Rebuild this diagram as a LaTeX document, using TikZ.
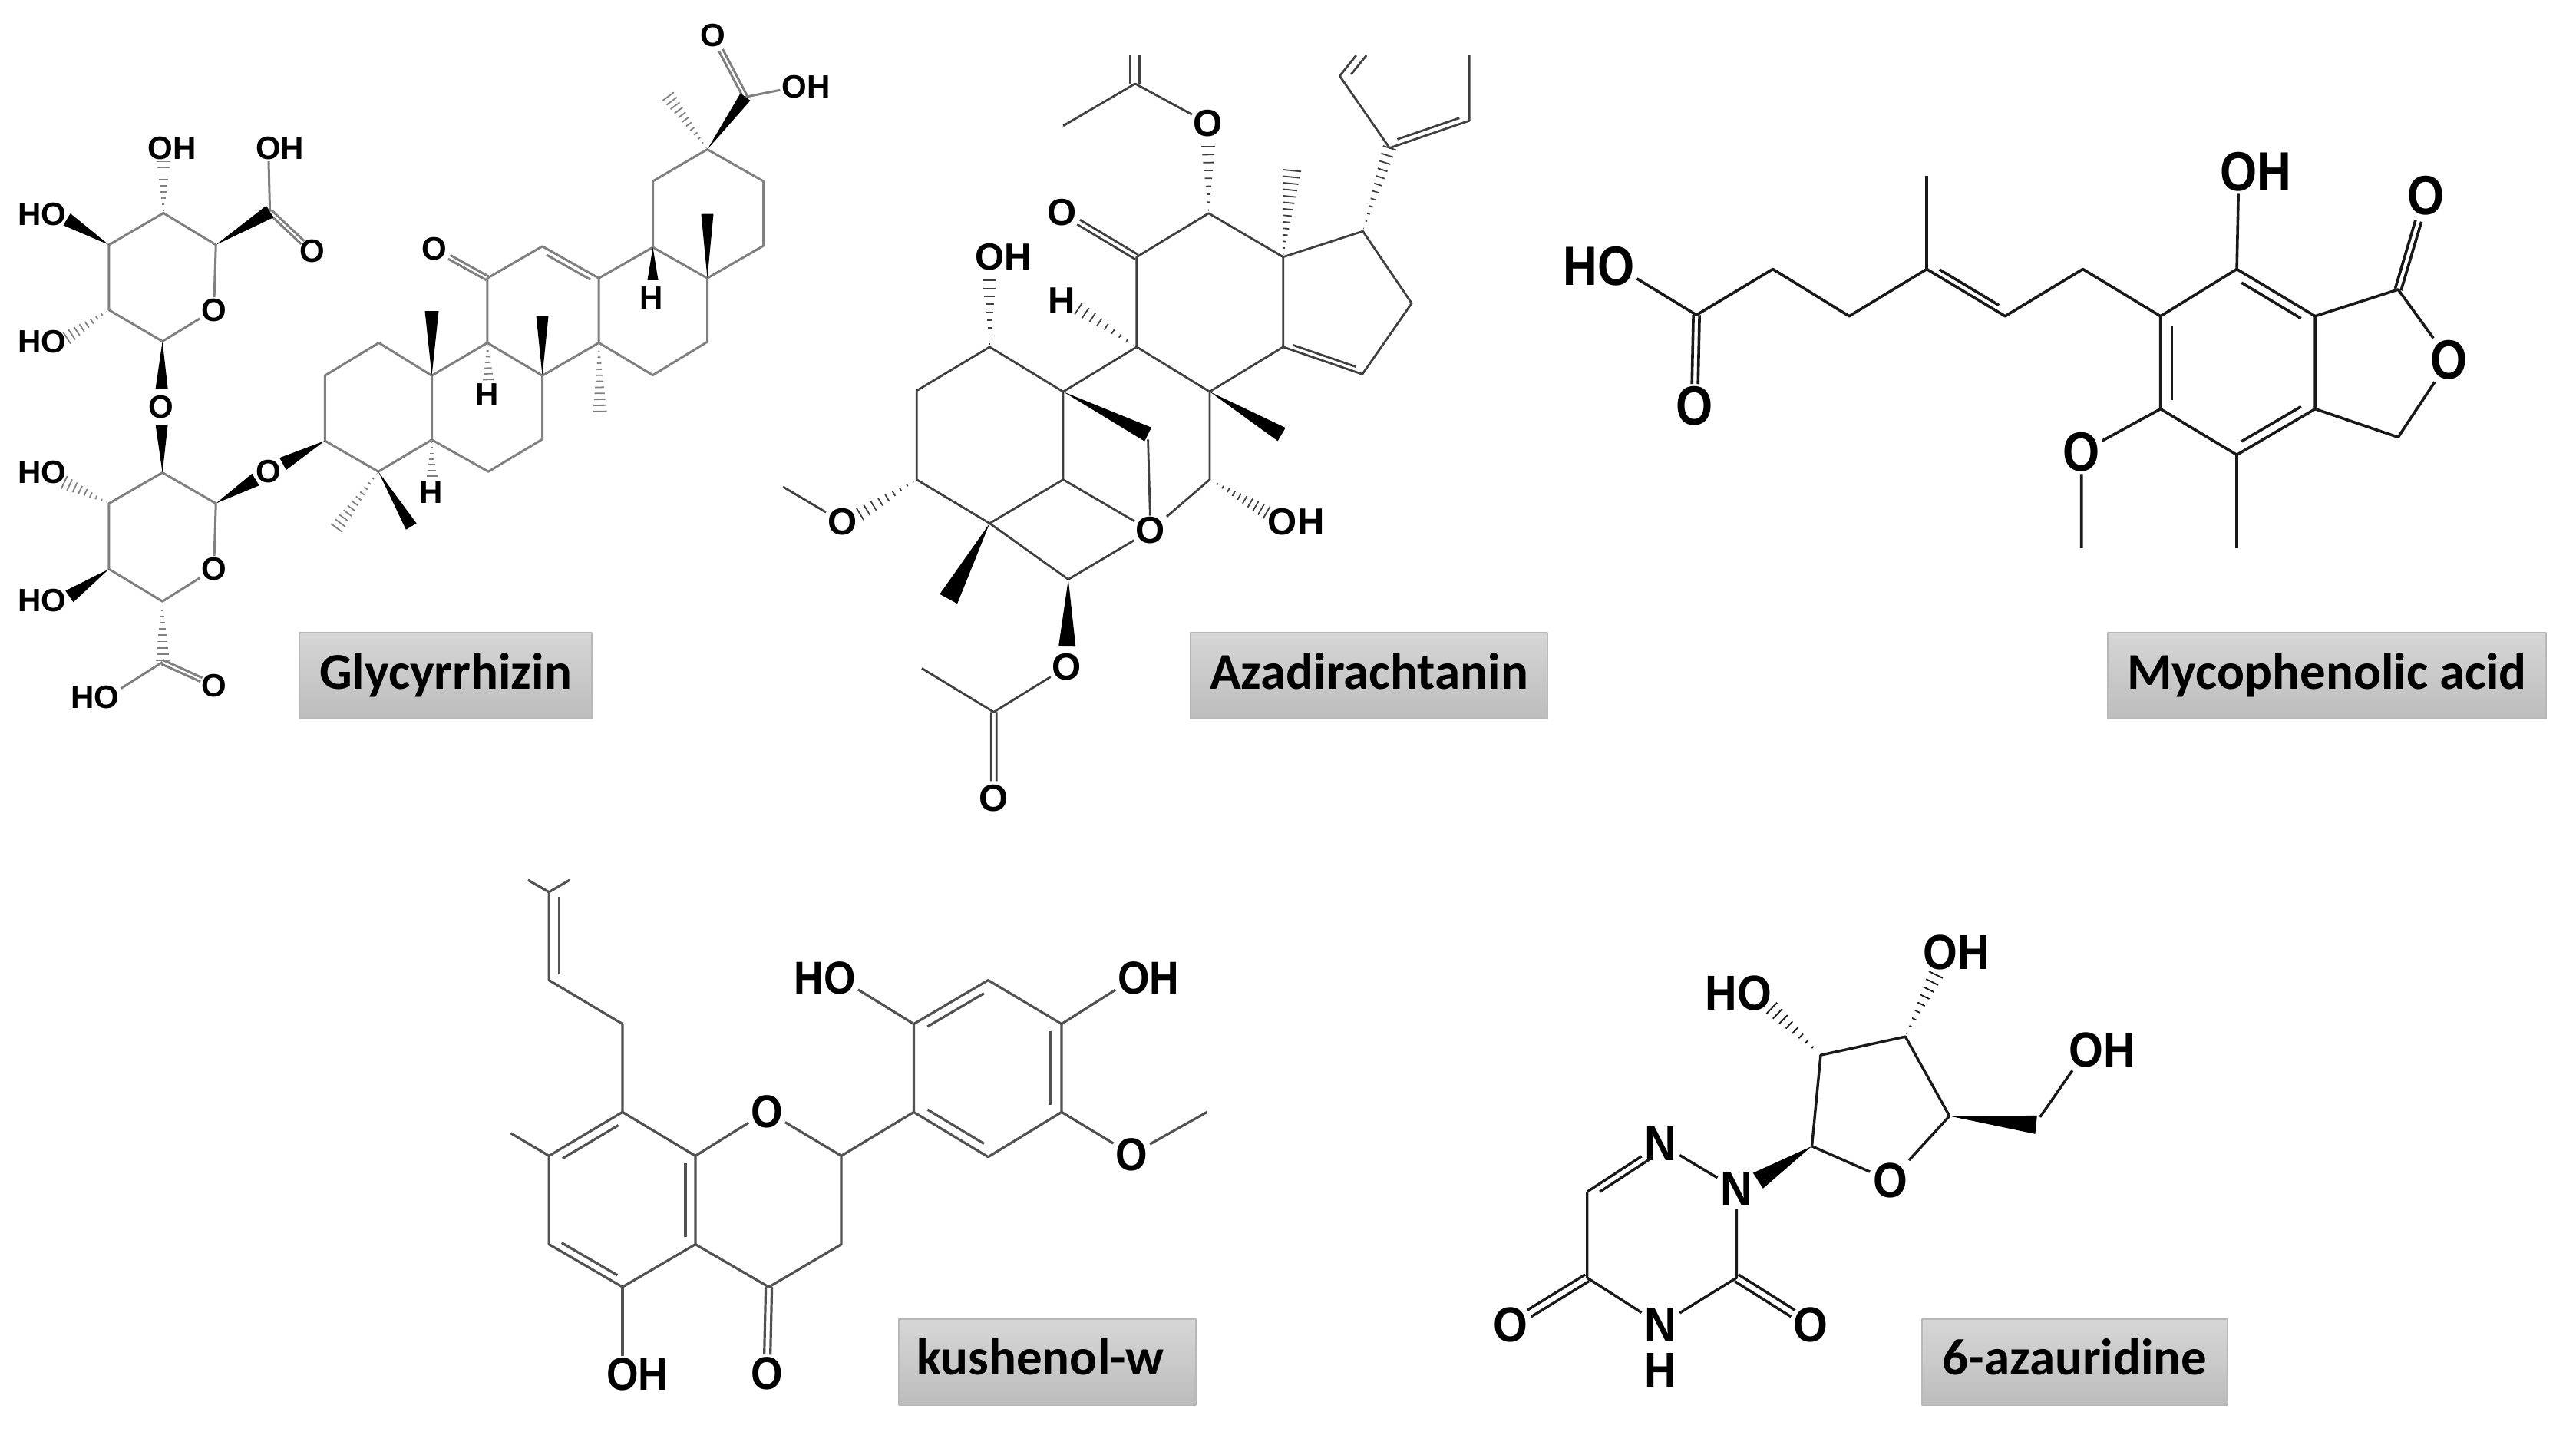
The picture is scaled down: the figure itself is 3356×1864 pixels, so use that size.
\documentclass[tikz,border=0pt]{standalone}
\usepackage{fontspec}
\usetikzlibrary{calc}
\newfontfamily\atomfont{Liberation Sans}
\newfontfamily\atomfontC[FakeStretch=0.86]{Liberation Sans}
\newfontfamily\atomfontD[FakeStretch=0.89]{Liberation Sans}
\newfontfamily\atomfontE[FakeStretch=0.9]{Liberation Sans}
\newfontfamily\namefont{Carlito}
% wedge from #1 to fraction #3 of the way to #2, half width #4
\newcommand{\wedgeb}[4]{%
  \coordinate (wtip) at ($(#1)!#3!(#2)$);
  \fill[black] (#1) -- ($(wtip)!#4!90:(#1)$) -- ($(wtip)!#4!-90:(#1)$) -- cycle;}
% hashed wedge: from #1 to fraction #3 towards #2, half width #4, #5 strokes
\newcommand{\hashb}[5]{%
  \foreach \hi in {0,...,#5}{%
    \pgfmathsetmacro\hfr{(\hi+0.4)/(#5+0.4)}
    \pgfmathsetmacro\hpos{\hfr*#3}
    \coordinate (hc) at ($(#1)!\hpos!(#2)$);
    \draw[bond,line width=1.8pt] ($(hc)!\hfr*#4!90:(#1)$) -- ($(hc)!\hfr*#4!-90:(#1)$);
  }}
% inner line of a double bond, on the left of a->b at signed offset #3
\newcommand{\innerb}[5]{%
  \coordinate (ia) at ($(#1)!#4!(#2)$);
  \coordinate (ib) at ($(#1)!#5!(#2)$);
  \draw[bond] ($(ia)!#3!90:(ib)$) -- ($(ib)!#3!-90:(ia)$);}
% symmetric double bond from #1 to fraction #4 towards #2
\newcommand{\symb}[4]{%
  \innerb{#1}{#2}{#3}{0}{#4}
  \innerb{#1}{#2}{-#3}{0}{#4}}
\newcommand{\pts}[1]{\foreach \pn/\px/\py in {#1}{\coordinate (\pn) at (\px,\py);}}
\tikzset{
  namebox/.style={draw=black!28,line width=2pt,top color=black!16,bottom color=black!26,
    minimum height=112pt,inner sep=0pt,text=black,text height=47pt,text depth=13pt,
    font=\namefont\bfseries\fontsize{67}{67}\selectfont},
  bond/.style={line width=3pt},
  atom/.style={inner sep=2pt,outer sep=0pt}
}
\begin{document}
\begin{tikzpicture}[x=1pt,y=-1pt,line join=round]
\useasboundingbox (0,0) rectangle (3356,1864);
\fill[white] (0,0) rectangle (3356,1864);

%================ Glycyrrhizin
\begin{scope}[x=0.6697pt,y=-0.6378pt,
  bond/.style={draw=black!50,line width=3pt},
  atom/.style={inner sep=2pt,outer sep=0pt,font=\atomfont\bfseries\fontsize{42}{42}\selectfont}]
\pts{a1/318/435,a2/212/500,a3/212/633,a4/316/697,a5/420/500,
 a6/130/448,a7/318/330,a8/525/432,a9/130/690,
 b1/316/965,b2/212/1028,b3/212/1162,b4/316/1228,b5/420/1028,
 b6/125/985,b7/135/1218,b8/316/1352,
 s1/632/900,s2/632/767,s3/737/700,s4/840/767,s5/840/898,s6/736/963,
 s7/948/700,s8/1055/767,s9/1055/897,s10/950/963,
 s11/948/568,s12/1055/503,s13/1165/568,s14/1165/700,
 s15/1270/505,s16/1376/568,s17/1376/698,s18/1270/766,
 s19/1270/370,s20/1376/305,s21/1485/370,s22/1485/502,s23/1450/198,
 m1/840/635,m2/1055/645,m3/1167/840,m4/1376/437,m5/655/1078,m6/800/1075,m7/1300/197,
 h1/950/775,h2/840/972,h3/1270/572}
\node[atom] (aO) at (416,633) {O};
\node[atom] (aOH1) at (105,437) {\llap{H}O};
\node[atom] (aOH2) at (312,303) {O\rlap{H}};
\node[atom] (aOH3) at (522,303) {O\rlap{H}};
\node[atom] (aOd) at (607,513) {O};
\node[atom] (aOH4) at (105,697) {\llap{H}O};
\node[atom] (lnk) at (314,831) {O};
\node[atom] (bO) at (416,1162) {O};
\node[atom] (bOH1) at (105,965) {\llap{H}O};
\node[atom] (bOH2) at (105,1226) {\llap{H}O};
\node[atom] (lnk2) at (523,963) {O};
\node[atom] (bOd) at (417,1400) {O};
\node[atom] (bOH3) at (208,1424) {\llap{H}O};
\node[atom] (sO) at (845,508) {O};
\node[atom] (tO) at (1387,72) {O};
\node[atom] (tOH) at (1545,178) {O\rlap{H}};
\node[atom] (H1) at (948,806) {H};
\node[atom] (H2) at (1267,608) {H};
\node[atom] (H3) at (838,1005) {H};
\draw[bond] (a5)--(a1)--(a2)--(a3)--(a4)--(aO)--(a5);
\draw[bond] (a8)--(aOH3);
\symb{a8}{aOd}{2.8pt}{0.78}
\draw[bond] (b5)--(b1)--(b2)--(b3)--(b4)--(bO)--(b5);
\draw[bond] (b8)--(bOH3);
\symb{b8}{bOd}{2.8pt}{0.75}
\draw[bond] (s1)--(s2)--(s3)--(s4)--(s5)--(s6)--cycle;
\draw[bond] (s4)--(s7)--(s8)--(s9)--(s10)--(s5);
\draw[bond] (s7)--(s11)--(s12)--(s13)--(s14)--(s8);
\draw[bond] (s13)--(s15)--(s16)--(s17)--(s18)--(s14);
\draw[bond] (s15)--(s19)--(s20)--(s21)--(s22)--(s16);
\draw[bond] (s23)--(tOH);
\symb{s23}{tO}{2.8pt}{0.76}
\symb{s11}{sO}{2.8pt}{0.72}
\innerb{s12}{s13}{-7pt}{0.12}{0.9}
\wedgeb{a2}{a6}{1}{9pt}
\hashb{a1}{a7}{1}{9pt}{8}
\wedgeb{a5}{a8}{1}{9pt}
\hashb{a3}{a9}{1}{9pt}{8}
\wedgeb{a4}{lnk}{0.72}{8pt}
\wedgeb{b1}{lnk}{0.73}{8pt}
\hashb{b2}{b6}{1}{9pt}{8}
\wedgeb{b3}{b7}{1}{9pt}
\wedgeb{b5}{lnk2}{0.75}{9pt}
\wedgeb{s1}{lnk2}{0.75}{9pt}
\hashb{b4}{b8}{0.97}{9pt}{9}
\wedgeb{s4}{m1}{1}{9pt}
\wedgeb{s8}{m2}{1}{8pt}
\hashb{s14}{m3}{1}{9pt}{11}
\wedgeb{s16}{m4}{1}{8pt}
\wedgeb{s6}{m6}{1}{8pt}
\hashb{s6}{m5}{1}{9pt}{11}
\hashb{s20}{m7}{1}{9pt}{11}
\wedgeb{s20}{s23}{1}{8pt}
\hashb{s7}{h1}{1}{7pt}{6}
\hashb{s5}{h2}{1}{7pt}{6}
\wedgeb{s15}{h3}{1}{7pt}
\end{scope}

%================ Azadirachtanin
\begin{scope}[xshift=1000pt,yshift=-40pt,x=0.6697pt,y=-0.6697pt,
  bond/.style={draw=black!75,line width=2.8pt},
  atom/.style={inner sep=2pt,outer sep=0pt,font=\atomfont\bfseries\fontsize{49}{49}\selectfont}]
\pts{c1/715/103,c0/715/48,c2/575/185,
 r1/858/355,r2/718/440,r3/718/615,r4/860/702,r5/1003/615,r6/1003/440,
 p1/1158/390,p2/1253/530,p3/1157/668,m1/1020/272,
 f1/1210/228,f2/1365/175,f3/1365/48,f4/1113/88,f5/1145/48,f6/1135/85,f7/1165/48,
 l1/575/702,l2/432/615,l3/290/700,l4/290/873,l5/432/958,l6/575/873,
 hh/605/540,o1/180/940,me/30/887,w1/740/785,w2/740/795,q1/860/873,w3/1000/785,
 q2/585/1067,w4/352/1105,ac/440/1325,acm/300/1240}
\node[atom] (xO1) at (857,180) {O};
\node[atom] (xO2) at (573,353) {O};
\node[atom] (xH) at (572,525) {H};
\node[atom] (xOH1) at (432,440) {O\rlap{H}};
\node[atom] (xO3) at (145,955) {O};
\node[atom] (xO4) at (745,972) {O};
\node[atom] (xOH2) at (1002,955) {O\rlap{H}};
\node[atom] (xO5) at (582,1237) {O};
\node[atom] (xO6) at (440,1493) {O};
\draw[bond] (c2)--(c1)--(xO1);
\symb{c1}{c0}{6pt}{1}
\draw[bond] (r1)--(r2)--(r3)--(r4)--(r5)--(r6)--cycle;
\symb{r2}{xO2}{3.5pt}{0.78}
\draw[bond] (r6)--(p1)--(p2)--(p3)--(r5);
\innerb{r5}{p3}{6.5pt}{0.1}{0.9}
\hashb{r1}{xO1}{0.74}{9pt}{8}
\hashb{r6}{m1}{1}{12pt}{13}
\hashb{p1}{f1}{1}{9pt}{11}
\draw[bond] (f3)--(f2)--(f1)--(f4)--(f5);
\draw[bond] (f6)--(f7);
\innerb{f1}{f2}{7.5pt}{0.12}{0.9}
\draw[bond] (r3)--(l1)--(l2)--(l3)--(l4)--(l5)--(l6)--(l1);
\hashb{r3}{hh}{1}{9pt}{8}
\hashb{l2}{xOH1}{0.74}{9pt}{8}
\hashb{l4}{o1}{1}{9pt}{8}
\draw[bond] (me)--(xO3);
\wedgeb{l1}{w1}{1}{10pt}
\draw[bond] (w2)--(xO4);
\draw[bond] (l6)--(xO4);
\draw[bond] (l5)--(q2)--(xO4);
\draw[bond] (r4)--(q1)--(xO4);
\wedgeb{r4}{w3}{1}{10pt}
\hashb{q1}{xOH2}{0.78}{9pt}{10}
\wedgeb{l5}{w4}{1}{13pt}
\wedgeb{q2}{xO5}{0.76}{11pt}
\draw[bond] (xO5)--(ac)--(acm);
\symb{ac}{xO6}{3.5pt}{0.8}
\end{scope}

%================ Mycophenolic acid
\begin{scope}[xshift=2000pt,yshift=-150pt,x=0.8648pt,y=-0.5102pt,
  bond/.style={draw=black!90,line width=3.6pt},
  atom/.style={inner sep=3pt,outer sep=0pt,font=\atomfontC\bfseries\fontsize{72}{72}\selectfont}]
\pts{d1/243/510,d2/358/393,d3/473/513,d4/590/393,d5/708/513,d6/825/393,
 d7/590/155,
 e1/942/513,e2/1057/393,e3/1175/513,e4/1175/750,e5/1057/867,e6/942/750,
 e7/1300/445,e8/1300/822,e9/823/1105,e10/1057/1105}
\node[atom] (yOH1) at (122,385) {\llap{H}O};
\node[atom] (yO1) at (240,742) {O};
\node[atom] (yOH2) at (1060,145) {O\rlap{H}};
\node[atom] (yO2) at (1342,205) {O};
\node[atom] (yO3) at (1377,625) {O};
\node[atom] (yO4) at (823,860) {O};
\draw[bond] (yOH1)--(d1)--(d2)--(d3)--(d4)--(d5)--(d6)--(e1);
\draw[bond] (d4)--(d7);
\innerb{d4}{d5}{8pt}{0.12}{0.88}
\symb{d1}{yO1}{4pt}{0.76}
\draw[bond] (e1)--(e2)--(e3)--(e4)--(e5)--(e6)--cycle;
\innerb{e1}{e6}{15pt}{0.1}{0.9}
\innerb{e2}{e3}{-12pt}{0.12}{0.88}
\innerb{e4}{e5}{-12pt}{0.12}{0.88}
\draw[bond] (e2)--(yOH2);
\draw[bond] (e3)--(e7)--(yO3)--(e8)--(e4);
\symb{e7}{yO2}{4pt}{0.73}
\draw[bond] (e6)--(yO4)--(e9);
\draw[bond] (e5)--(e10);
\end{scope}

%================ kushenol-w
\begin{scope}[xshift=640pt,yshift=-1120pt,x=0.6378pt,y=-0.4745pt,
  bond/.style={draw=black!68,line width=3.2pt},
  atom/.style={inner sep=3pt,outer sep=0pt,font=\atomfontD\bfseries\fontsize{60}{60}\selectfont}]
\pts{k1/75/55,k2/118/88,k3/160/55,k4/118/330,k5/268/450,
 n1/268/692,n2/417/812,n3/417/1055,n4/268/1172,n5/118/1055,n6/118/812,n7/40/750,
 j1/715/812,j2/715/1055,j3/567/1172,
 t1/863/692,t2/863/450,t3/1015/330,t4/1165/450,t5/1165/692,t6/1015/815,
 t7/1462/692}
\node[atom] (zO1) at (563,690) {O};
\node[atom] (zO2) at (563,1410) {O};
\node[atom] (zOH1) at (268,1412) {O\rlap{H}};
\node[atom] (zOH2) at (712,325) {\llap{H}O};
\node[atom] (zOH3) at (1312,325) {O\rlap{H}};
\node[atom] (zO3) at (1308,808) {O};
\draw[bond] (k1)--(k2)--(k3);
\draw[bond] (k2)--(k4)--(k5)--(n1);
\innerb{k2}{k4}{13pt}{0.05}{0.93}
\draw[bond] (n1)--(n2)--(n3)--(n4)--(n5)--(n6)--cycle;
\draw[bond] (n6)--(n7);
\innerb{n1}{n6}{12pt}{0.12}{0.88}
\innerb{n2}{n3}{-13pt}{0.08}{0.92}
\innerb{n5}{n4}{10pt}{0.12}{0.88}
\draw[bond] (n2)--(zO1)--(j1)--(j2)--(j3)--(n3);
\symb{j3}{zO2}{4pt}{0.78}
\draw[bond] (n4)--(zOH1);
\draw[bond] (j1)--(t1);
\draw[bond] (t1)--(t2)--(t3)--(t4)--(t5)--(t6)--cycle;
\innerb{t2}{t3}{-12pt}{0.12}{0.88}
\innerb{t4}{t5}{-15pt}{0.08}{0.92}
\innerb{t1}{t6}{12pt}{0.12}{0.88}
\draw[bond] (t2)--(zOH2);
\draw[bond] (t4)--(zOH3);
\draw[bond] (t5)--(zO3)--(t7);
\end{scope}

%================ 6-azauridine
\begin{scope}[xshift=1900pt,yshift=-1180pt,x=0.6378pt,y=-0.4362pt,
  bond/.style={draw=black!90,line width=3.4pt},
  atom/.style={inner sep=4pt,outer sep=0pt,font=\atomfontE\bfseries\fontsize{64}{64}\selectfont}]
\pts{u1/263/853,u2/263/1110,u3/568/1110,
 v1/722/717,v2/740/445,v3/913/390,v4/1003/627,v5/1180/653,v6/1188/630,
 wn/612/820,wo1/640/305,wo2/975/205}
\node[atom] (uN1) at (413,710) {N};
\node[atom] (uN2) at (568,845) {N};
\node[atom] (uN3) at (413,1250) {N};
\node[atom,inner sep=0pt] (uH) at (413,1385) {H};
\node[atom] (uO1) at (107,1250) {O};
\node[atom] (uO2) at (720,1250) {O};
\node[atom] (uO3) at (882,820) {O};
\node[atom] (uOH1) at (605,260) {\llap{H}O};
\node[atom] (uOH2) at (985,138) {O\rlap{H}};
\node[atom] (uOH3) at (1283,430) {O\rlap{H}};
\draw[bond] (u1)--(uN1)--(uN2)--(u3)--(uN3)--(u2)--(u1);
\innerb{u1}{uN1}{-9pt}{0.12}{0.82}
\symb{u2}{uO1}{5pt}{0.76}
\symb{u3}{uO2}{5pt}{0.76}
\draw[bond] (v1)--(v2)--(v3)--(v4)--(uO3)--(v1);
\wedgeb{v1}{wn}{1}{12pt}
\wedgeb{v4}{v5}{1}{12pt}
\draw[bond] (v6)--(uOH3);
\hashb{v2}{wo1}{1}{10pt}{8}
\hashb{v3}{wo2}{1}{10pt}{8}
\end{scope}

%================ name boxes
\node[namebox,minimum width=381pt] (nameA) at (580.5,880) {Glycyrrhizin};
\node[namebox,minimum width=465pt] (nameB) at (1783.5,880) {Azadirachtanin};
\node[namebox,minimum width=571pt] (nameC) at (3031.5,880) {Mycophenolic acid};
\node[namebox,minimum width=387pt] (nameD) at (1364.5,1773.5) {kushenol-w\rule{18pt}{0pt}};
\node[namebox,minimum width=398pt] (nameE) at (2703,1773.5) {6-azauridine};
\end{tikzpicture}
\end{document}
